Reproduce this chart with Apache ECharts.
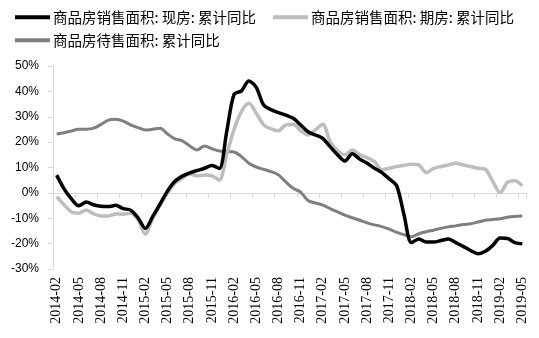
<!DOCTYPE html>
<html>
<head>
<meta charset="utf-8">
<script src="https://cdn.jsdelivr.net/npm/echarts@6/dist/echarts.min.js"></script>
<style>
  html, body { margin: 0; padding: 0; background: #ffffff; }
  #chart { width: 539px; height: 338px; }
</style>
</head>
<body>
<div id="chart"></div>
<script>
// Monthly categories, 2014-02 through 2019-05
const months = [
  '2014-02','2014-03','2014-04','2014-05','2014-06','2014-07','2014-08','2014-09','2014-10','2014-11','2014-12',
  '2015-01','2015-02','2015-03','2015-04','2015-05','2015-06','2015-07','2015-08','2015-09','2015-10','2015-11','2015-12',
  '2016-01','2016-02','2016-03','2016-04','2016-05','2016-06','2016-07','2016-08','2016-09','2016-10','2016-11','2016-12',
  '2017-01','2017-02','2017-03','2017-04','2017-05','2017-06','2017-07','2017-08','2017-09','2017-10','2017-11','2017-12',
  '2018-01','2018-02','2018-03','2018-04','2018-05','2018-06','2018-07','2018-08','2018-09','2018-10','2018-11','2018-12',
  '2019-01','2019-02','2019-03','2019-04','2019-05'
];

// 商品房销售面积: 现房: 累计同比 (%)
const spotSales = [
  7.0, 1.6, -2.4, -5.1, -3.6, -4.7, -5.3, -5.4, -4.9, -6.2, -6.8,
  -9.8, -14.0, -9.3, -4.3, 0.8, 4.6, 6.6, 7.9, 8.8, 9.7, 10.8, 9.6,
  24.1, 38.8, 40.2, 44.1, 41.6, 34.6, 32.8, 31.6, 30.6, 29.4, 26.8, 24.1,
  22.8, 21.5, 18.2, 15.0, 12.6, 15.4, 13.3, 11.7, 9.7, 8.0, 5.5, 2.8,
  -8.7, -19.6, -18.2, -19.4, -19.4, -18.8, -18.2, -19.6, -21.1, -22.7, -24.0, -23.0,
  -20.7, -17.8, -18.0, -19.6, -20.1
];

// 商品房销售面积: 期房: 累计同比 (%)
const forwardSales = [
  -1.5, -4.7, -7.5, -8.0, -6.7, -8.3, -9.1, -9.1, -8.3, -8.4, -8.0,
  -10.6, -16.3, -10.0, -4.7, -0.1, 3.8, 5.8, 7.4, 6.7, 7.0, 6.7, 5.1,
  15.0, 25.0, 32.0, 35.3, 31.4, 26.8, 25.2, 24.5, 26.8, 27.0, 24.5, 22.8,
  24.8, 27.0, 20.2, 16.7, 15.0, 16.9, 15.0, 13.9, 12.3, 9.1, 9.7, 10.4,
  10.9, 11.3, 11.0, 8.0, 9.7, 10.4, 11.0, 11.7, 11.0, 10.4, 9.7, 9.3,
  4.5, 0.1, 4.1, 4.8, 2.8
];

// 商品房待售面积: 累计同比 (%)
const unsoldArea = [
  23.2, 23.7, 24.4, 25.1, 25.1, 25.5, 27.0, 28.7, 29.0, 28.3, 26.8,
  25.7, 24.8, 25.1, 25.5, 23.2, 21.3, 20.5, 18.5, 16.9, 18.5, 17.4, 16.5,
  16.3, 16.1, 14.3, 11.7, 10.2, 9.3, 8.4, 7.1, 4.3, 1.8, 0.3, -3.0,
  -4.0, -4.8, -6.2, -7.5, -8.8, -9.8, -10.8, -11.8, -12.6, -13.3, -14.3, -15.6,
  -16.5, -17.3, -16.1, -15.3, -14.7, -14.0, -13.4, -13.0, -12.5, -12.2, -11.5, -10.8,
  -10.5, -10.2, -9.6, -9.3, -9.1
];

const seriesNames = [
  '商品房销售面积: 现房: 累计同比',
  '商品房销售面积: 期房: 累计同比',
  '商品房待售面积: 累计同比'
];
const seriesColors = ['#000000', '#bdbdbd', '#7f7f7f'];

const chart = echarts.init(document.getElementById('chart'), null, { renderer: 'canvas' });

const legendText = {
  fontFamily: '"Noto Sans CJK SC", sans-serif',
  fontSize: 14.5,
  color: '#000000',
  padding: [0, 0, 0, -2]
};

const lineSeries = (idx, data, width, z) => ({
  name: seriesNames[idx],
  type: 'line',
  data: data,
  smooth: 0.3,
  showSymbol: false,
  symbol: 'none',
  z: z,
  color: seriesColors[idx],
  itemStyle: { color: seriesColors[idx] },
  lineStyle: { color: seriesColors[idx], width: width }
});

chart.setOption({
  animation: false,
  backgroundColor: '#ffffff',
  legend: [
    {
      data: [seriesNames[0], seriesNames[1]],
      left: 15, top: 10, padding: 0,
      icon: 'rect', itemWidth: 35, itemHeight: 4, itemGap: 17,
      textStyle: legendText
    },
    {
      data: [seriesNames[2]],
      left: 15, top: 33, padding: 0,
      icon: 'rect', itemWidth: 35, itemHeight: 4,
      textStyle: legendText
    }
  ],
  grid: { left: 53, right: 13, top: 66, bottom: 69, containLabel: false },
  xAxis: {
    type: 'category',
    data: months,
    boundaryGap: true,
    axisLine: { lineStyle: { color: '#d9d9d9', width: 1 } },
    axisTick: { show: true, interval: 2, length: 5, lineStyle: { color: '#d9d9d9' } },
    axisLabel: {
      interval: 2,
      rotate: 90,
      margin: 8,
      fontFamily: '"Liberation Serif", "Times New Roman", serif',
      fontSize: 14,
      color: '#000000'
    },
    splitLine: { show: false }
  },
  yAxis: {
    type: 'value',
    min: -30, max: 50, interval: 10,
    axisLine: { show: true, lineStyle: { color: '#d9d9d9', width: 1 } },
    axisTick: { show: true, length: 5, lineStyle: { color: '#d9d9d9' } },
    axisLabel: {
      formatter: '{value}%',
      margin: 14,
      fontFamily: '"Liberation Sans", Arial, sans-serif',
      fontSize: 12,
      color: '#000000'
    },
    splitLine: { show: false }
  },
  series: [
    lineSeries(2, unsoldArea, 3, 2),
    lineSeries(1, forwardSales, 3.5, 3),
    lineSeries(0, spotSales, 3.5, 4)
  ]
});
</script>
</body>
</html>
